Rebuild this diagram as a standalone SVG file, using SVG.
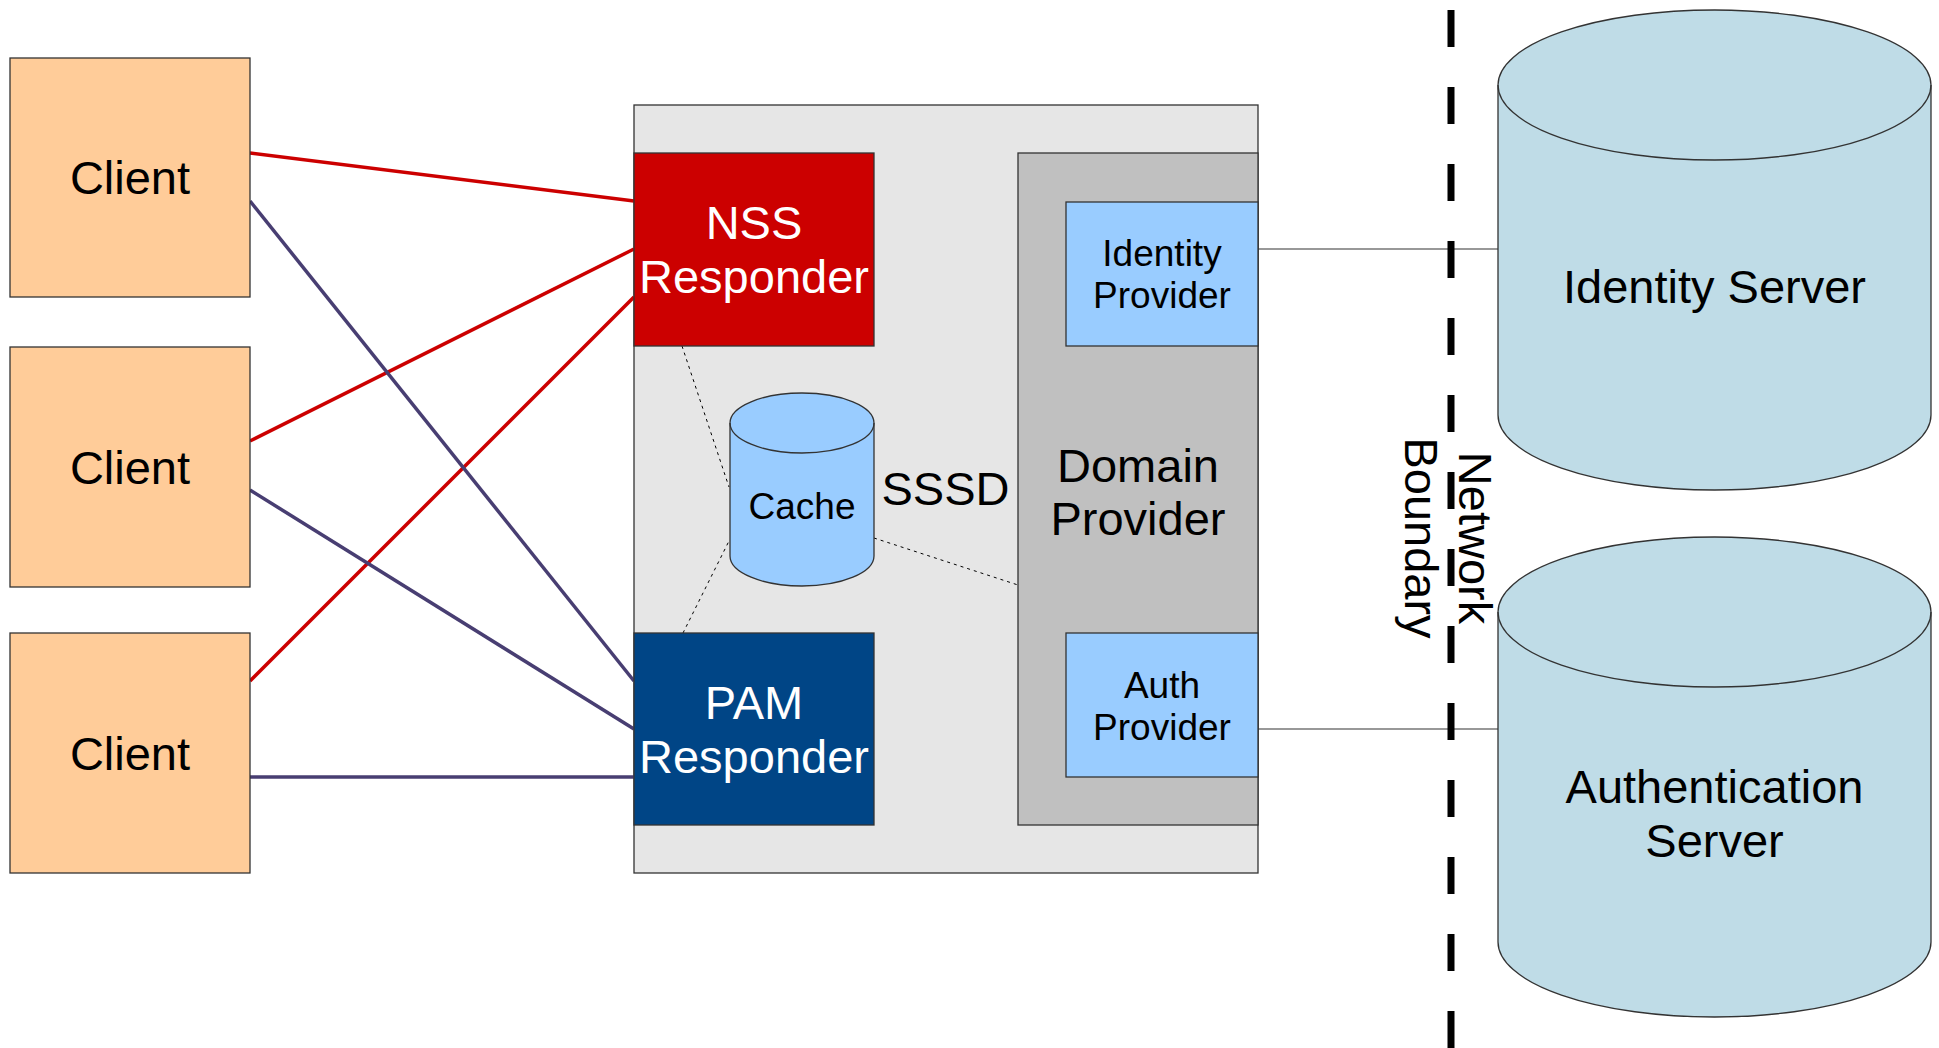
<svg xmlns="http://www.w3.org/2000/svg" width="1939" height="1048" viewBox="0 0 1939 1048">
<style>
text{font-family:"Liberation Sans",Arial,sans-serif;text-anchor:middle;fill:#000}
.big{font-size:47px}
.mid{font-size:37px}
.w{fill:#fff}
.client{fill:#ffcc99;stroke:#333;stroke-width:1.3}
.box{stroke:#333;stroke-width:1.3}
.red{stroke:#cc0000;stroke-width:3.5;fill:none}
.pur{stroke:#483e72;stroke-width:3.5;fill:none}
.thin{stroke:#333;stroke-width:1.2;fill:none}
.dot{stroke:#000;stroke-width:1;stroke-dasharray:3 4;fill:none}
.cyl{stroke:#333;stroke-width:1.3}
</style>
<rect width="1939" height="1048" fill="#fff"/>
<g id="sssd">
<rect x="634" y="105" width="624" height="768" fill="#e6e6e6" class="box"/>
<text class="big" x="945.5" y="505">SSSD</text>
</g>
<g id="domain-provider">
<rect x="1018" y="153" width="240" height="672" fill="#c0c0c0" class="box"/>
<text class="big" x="1138" y="482">Domain</text>
<text class="big" x="1138" y="535">Provider</text>
</g>
<g id="connectors">
<line class="red" x1="250" y1="153" x2="634" y2="201"/>
<line class="red" x1="250" y1="441" x2="634" y2="249"/>
<line class="red" x1="250" y1="681" x2="634" y2="297"/>
<line class="pur" x1="250" y1="201" x2="634" y2="681"/>
<line class="pur" x1="250" y1="490" x2="634" y2="729"/>
<line class="pur" x1="250" y1="777" x2="634" y2="777"/>
<line class="dot" x1="682" y1="346" x2="729" y2="487"/>
<line class="dot" x1="683" y1="633" x2="729" y2="541"/>
<line class="dot" x1="874" y1="538" x2="1018" y2="585"/>
<line class="thin" x1="1258" y1="249" x2="1498" y2="249"/>
<line class="thin" x1="1258" y1="729" x2="1498" y2="729"/>
</g>
<g id="client-1">
<rect class="client" x="10" y="58" width="240" height="239"/>
<text class="big" x="130" y="194">Client</text>
</g>
<g id="client-2">
<rect class="client" x="10" y="347" width="240" height="240"/>
<text class="big" x="130" y="484">Client</text>
</g>
<g id="client-3">
<rect class="client" x="10" y="633" width="240" height="240"/>
<text class="big" x="130" y="770">Client</text>
</g>
<g id="nss-responder">
<rect x="634" y="153" width="240" height="193" fill="#cc0000" class="box"/>
<text class="big w" x="754" y="239">NSS</text>
<text class="big w" x="754" y="293">Responder</text>
</g>
<g id="pam-responder">
<rect x="634" y="633" width="240" height="192" fill="#004586" class="box"/>
<text class="big w" x="754" y="719">PAM</text>
<text class="big w" x="754" y="773">Responder</text>
</g>
<g id="cache">
<path class="cyl" fill="#99ccff" d="M730,423 A72,30 0 0 1 874,423 V556 A72,30 0 0 1 730,556 Z"/>
<path class="cyl" fill="none" d="M730,423 A72,30 0 0 0 874,423"/>
<text class="mid" x="802" y="519">Cache</text>
</g>
<g id="identity-provider">
<rect x="1066" y="202" width="192" height="144" fill="#99ccff" class="box"/>
<text class="mid" x="1162" y="266">Identity</text>
<text class="mid" x="1162" y="308">Provider</text>
</g>
<g id="auth-provider">
<rect x="1066" y="633" width="192" height="144" fill="#99ccff" class="box"/>
<text class="mid" x="1162" y="698">Auth</text>
<text class="mid" x="1162" y="740">Provider</text>
</g>
<g id="network-boundary">
<line x1="1451" y1="10" x2="1451" y2="1048" stroke="#000" stroke-width="7" stroke-dasharray="37 40"/>
<text class="big" transform="translate(1459,538) rotate(90)" x="0" y="0">Network</text>
<text class="big" transform="translate(1459,538) rotate(90)" x="0" y="54">Boundary</text>
</g>
<g id="identity-server">
<path class="cyl" fill="#bfdce7" d="M1498,85 A216.5,75 0 0 1 1931,85 V415 A216.5,75 0 0 1 1498,415 Z"/>
<path class="cyl" fill="none" d="M1498,85 A216.5,75 0 0 0 1931,85"/>
<text class="big" x="1714.5" y="303">Identity Server</text>
</g>
<g id="authentication-server">
<path class="cyl" fill="#bfdce7" d="M1498,612 A216.5,75 0 0 1 1931,612 V942 A216.5,75 0 0 1 1498,942 Z"/>
<path class="cyl" fill="none" d="M1498,612 A216.5,75 0 0 0 1931,612"/>
<text class="big" x="1714.5" y="803">Authentication</text>
<text class="big" x="1714.5" y="857">Server</text>
</g>
</svg>
